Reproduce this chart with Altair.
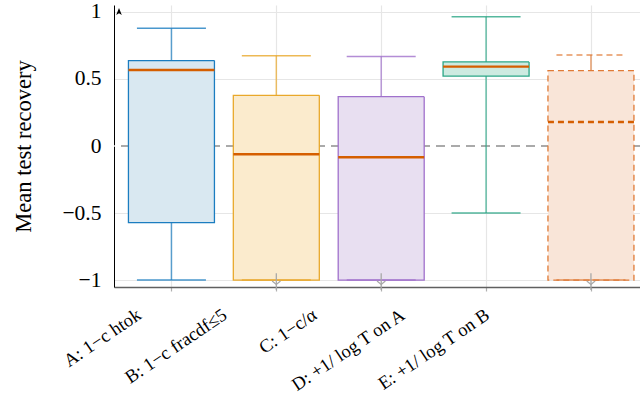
import json
import altair as alt
import pandas as pd

# Five-number summaries of mean test recovery per variant
categories = [
    "A: 1−c htok",
    "B: 1−c fracdf≤5",
    "C: 1−c/α",
    "D: +1/ log T on A",
    "E: +1/ log T on B",
]
whisker_low = [-1.0, -1.0, -1.0, -0.50, -1.0]
q1 = [-0.572, -1.0, -1.0, 0.522, -1.0]
median = [0.567, -0.062, -0.084, 0.592, 0.179]
q3 = [0.637, 0.378, 0.368, 0.627, 0.562]
whisker_high = [0.878, 0.674, 0.667, 0.965, 0.679]

y_ticks = [-1, -0.5, 0, 0.5, 1]

stroke_colors = ["#1b7dc0", "#e9a82a", "#a071cc", "#2aa686", "#e07a36"]
fill_colors = ["#d9e8f1", "#fbebcd", "#e8dff1", "#cdeae0", "#f9e5d8"]
median_color = "#d55e00"
serif = "Liberation Serif, Times New Roman, serif"

df = pd.DataFrame({
    "cat": categories,
    "pos": list(range(1, len(categories) + 1)),
    "lo": whisker_low,
    "q1": q1,
    "med": median,
    "q3": q3,
    "hi": whisker_high,
})

x_scale = alt.Scale(domain=[0.5, 5.42], nice=False, zero=False)
y_scale = alt.Scale(domain=[-1.052, 1.052], nice=False, zero=False)

label_offsets = [-38, -57, -72, -89, -109]
x_axis = alt.Axis(
    values=list(range(1, len(categories) + 1)),
    labelExpr=f"{json.dumps(categories, ensure_ascii=False)}[datum.value - 1]",
    labelAngle=-34,
    labelAlign="right",
    labelBaseline="top",
    labelPadding=14,
    labelOverlap=False,
    labelBound=False,
    labelFlush=False,
    labelOffset={
        "condition": [
            {"test": f"datum.value === {i + 1}", "value": o}
            for i, o in enumerate(label_offsets)
        ],
        "value": 0,
    },
    labelFont=serif,
    labelFontSize=18.5,
    labelColor="black",
    title=None,
    grid=True,
    gridColor="#e6e6e6",
    gridWidth=1.2,
    domainColor="#606060",
    domainWidth=1.5,
    tickColor="#b0b0b0",
    tickSize=4,
    tickWidth=1.2,
)

y_axis = alt.Axis(
    values=y_ticks,
    format="~g",
    labelFont=serif,
    labelFontSize=21.5,
    labelColor="black",
    labelPadding=13,
    labelOverlap=False,
    ticks=False,
    grid=True,
    gridColor="#e6e6e6",
    gridWidth=1.2,
    gridOpacity={"condition": {"test": "datum.value === 0", "value": 0}, "value": 1},
    domainColor="black",
    domainWidth=1,
    title="Mean test recovery",
    titleFont=serif,
    titleFontSize=22.5,
    titleFontWeight="normal",
    titleColor="black",
    titleAngle=-90,
    titleAlign="center",
    titleBaseline="middle",
    titleX=-91,
    titleY=141,
)

base = alt.Chart(df)
dash_test = f"datum.cat === '{categories[-1]}'"
dash = alt.condition(dash_test, alt.value([6, 4]), alt.value([1, 0]))
stroke = alt.Stroke("cat:N", scale=alt.Scale(domain=categories, range=stroke_colors), legend=None)
X = alt.X("pos:Q", scale=x_scale, axis=x_axis)

# dashed reference line at zero
zero_line = alt.Chart(df).mark_rule(color="#ababab", strokeWidth=1.5, strokeDash=[9, 6]).encode(
    y=alt.datum(0)
)

boxes = base.mark_bar(size=86, strokeWidth=1.3).encode(
    x=X,
    y=alt.Y("q1:Q", scale=y_scale, axis=y_axis),
    y2="q3:Q",
    color=alt.Color("cat:N", scale=alt.Scale(domain=categories, range=fill_colors), legend=None),
    stroke=stroke,
    strokeDash=dash,
)

upper_whisker = base.mark_rule(strokeWidth=1.5, opacity=0.7).encode(
    x=X,
    y=alt.Y("q3:Q", scale=y_scale, axis=y_axis),
    y2="hi:Q",
    stroke=stroke,
)
lower_whisker = base.mark_rule(strokeWidth=1.5, opacity=0.7).encode(
    x=X,
    y=alt.Y("lo:Q", scale=y_scale, axis=y_axis),
    y2="q1:Q",
    stroke=stroke,
)

cap_hi = base.mark_rule(strokeWidth=1.5, opacity=0.8, xOffset=-34.5, x2Offset=34.5).encode(
    x=X,
    x2="pos:Q",
    y=alt.Y("hi:Q", scale=y_scale, axis=y_axis),
    stroke=stroke,
    strokeDash=dash,
)
cap_lo = base.mark_rule(strokeWidth=1.5, opacity=0.8, xOffset=-34.5, x2Offset=34.5).encode(
    x=X,
    x2="pos:Q",
    y=alt.Y("lo:Q", scale=y_scale, axis=y_axis),
    stroke=stroke,
)

medians = base.mark_rule(color=median_color, strokeWidth=2.4, xOffset=-43, x2Offset=43).encode(
    x=X,
    x2="pos:Q",
    y=alt.Y("med:Q", scale=y_scale, axis=y_axis),
    strokeDash=dash,
)

# grey markers for boxes whose lower quartile sits on the axis floor
clipped = base.transform_filter("datum.q1 <= -1")
clip_rule = clipped.mark_rule(color="#a8a8a8", strokeWidth=1.3).encode(
    x=X,
    y=alt.datum(-0.95, scale=y_scale, axis=y_axis),
    y2=alt.datum(-1.075),
)
clip_chevron = clipped.mark_point(
    shape="M-1,-0.4L0,0.4L1,-0.4", filled=False, color="#a8a8a8", strokeWidth=1.3, size=70, opacity=1
).encode(
    x=X,
    y=alt.datum(-1.02, scale=y_scale, axis=y_axis),
)

# arrow head on top of the y axis
arrow = alt.Chart(df).transform_filter("datum.pos === 1").mark_point(
    shape="M0,-1L0.7,0.75L0,0.3L-0.7,0.75Z", filled=True, color="black", size=64, opacity=1
).encode(
    x=alt.datum(0.5, scale=x_scale, axis=x_axis),
    y=alt.datum(1.0, scale=y_scale, axis=y_axis),
)

chart = alt.layer(
    zero_line, boxes, upper_whisker, lower_whisker, cap_hi, cap_lo, medians,
    clip_rule, clip_chevron, arrow,
).properties(
    width=526,
    height=282,
    autosize=alt.AutoSizeParams(type="none"),
    padding={"left": 114, "top": 5, "right": 0, "bottom": 108},
).configure_view(stroke=None)

chart.save("out.html", embed_options={"renderer": "svg", "actions": False})
